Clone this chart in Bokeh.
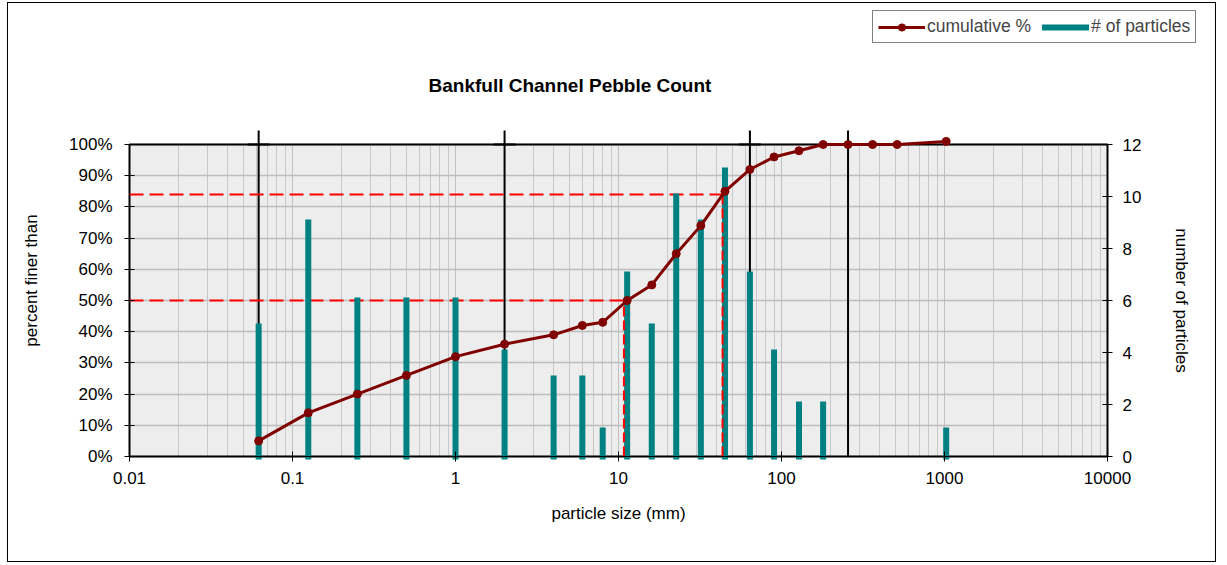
import math
from bokeh.plotting import figure
from bokeh.models import (Range1d, LinearAxis, FixedTicker, NumeralTickFormatter,
                          Legend, LegendItem, Label)
from bokeh.embed import file_html
from bokeh.resources import INLINE

# Pebble count: sieve class upper bounds (mm), counts per class, cumulative percent finer
sizes = [0.062, 0.125, 0.25, 0.5, 1, 2, 4, 6, 8, 11.3, 16, 22.6, 32, 45,
         64, 90, 128, 180, 256, 362, 512, 1024]
counts = [5, 9, 6, 6, 6, 4, 3, 3, 1, 7, 5, 10, 9, 11, 7, 4, 2, 2, 0, 0, 0, 1]
cum_pct = [5, 14, 20, 26, 32, 36, 39, 42, 43, 50, 55, 65, 74, 85, 92, 96, 98,
           100, 100, 100, 100, 101]

# size-class boundaries (silt/sand, sand/gravel, gravel/cobble, cobble/boulder)
class_bounds = [0.062, 2, 64, 256]

# characteristic grain sizes: percent finer and size (mm)
d_pct = [50, 84]
d_size = [10.8, 43.5]

# axis ticks
x_ticks = [0.01, 0.1, 1, 10, 100, 1000, 10000]
x_tick_labels = ["0.01", "0.1", "1", "10", "100", "1000", "10000"]
pct_ticks = [0, 0.1, 0.2, 0.3, 0.4, 0.5, 0.6, 0.7, 0.8, 0.9, 1.0]
count_ticks = [0, 2, 4, 6, 8, 10, 12]

FONT = "Liberation Sans"
MAROON = "#800000"
TEAL = "#008080"

# canvas geometry (px): the plot area sits inside a canvas-wide frame so that
# the title, legend and axis labels share one drawing surface
W, H = 1209, 560
PX_LEFT, PX_BOTTOM = 121, 107        # where 0.01 mm / 0 % fall
DECADE_PX, UNIT_PX = 163, 312        # px per decade, px per 100 %

x_lo, x_hi = x_ticks[0], x_ticks[-1]
lx0 = math.log10(x_lo)
x_start = 10 ** (lx0 - PX_LEFT / DECADE_PX)
x_end = 10 ** (lx0 + (W - PX_LEFT) / DECADE_PX)
y_start = -PX_BOTTOM / UNIT_PX
y_end = (H - PX_BOTTOM) / UNIT_PX
count_max = count_ticks[-1]

p = figure(width=W, height=H, x_axis_type="log",
           x_range=Range1d(x_start, x_end), y_range=Range1d(y_start, y_end),
           output_backend="svg", toolbar_location=None, title_location=None,
           min_border_left=0, min_border_right=0,
           min_border_top=0, min_border_bottom=0)
p.styles = {"border": "1px solid black", "margin-left": "7px", "margin-top": "2px"}
p.outline_line_color = None
p.background_fill_color = "white"
p.border_fill_color = "white"
p.extra_y_ranges = {"count": Range1d(y_start * count_max, y_end * count_max)}

# x axis (log)
minor = [m * 10.0 ** e for e in range(-2, 4) for m in range(2, 10)]
xt = FixedTicker(ticks=x_ticks, minor_ticks=minor)
p.xaxis.ticker = xt
p.xgrid.ticker = xt
p.xaxis.major_label_overrides = {t: s for t, s in zip(x_ticks, x_tick_labels)}
p.xaxis.axis_label = "particle size (mm)"
p.xaxis.fixed_location = 0
p.xaxis.bounds = (x_lo, x_hi)

# left axis (percent); its rule is the plot-area edge, the wider bounds only
# lift the axis title a little
yt = FixedTicker(ticks=pct_ticks)
p.yaxis.ticker = yt
p.ygrid.ticker = yt
p.yaxis.formatter = NumeralTickFormatter(format="0%")
p.yaxis.bounds = (0, 1.128)
p.yaxis.fixed_location = x_lo
p.yaxis.axis_label = "percent finer than"

# right axis (counts)
ry = LinearAxis(y_range_name="count", ticker=FixedTicker(ticks=count_ticks),
                bounds=(0, count_max), fixed_location=x_hi,
                axis_label="number of particles")
p.add_layout(ry, "right")

for ax in [p.xaxis[0], p.yaxis[0], ry]:
    ax.axis_line_color = "black"
    ax.axis_line_width = 1
    ax.major_tick_line_color = "black"
    ax.major_tick_in = 5
    ax.major_tick_out = 5
    ax.minor_tick_line_color = None
    ax.major_label_text_font = FONT
    ax.major_label_text_font_size = "17px"
    ax.major_label_text_color = "black"
    ax.axis_label_text_font = FONT
    ax.axis_label_text_font_size = "17px"
    ax.axis_label_text_font_style = "normal"
    ax.axis_label_text_color = "black"
p.yaxis.axis_line_color = None

p.xaxis.major_label_standoff = 10
p.xaxis.axis_label_standoff = 17
p.yaxis.major_label_standoff = 12
p.yaxis.axis_label_standoff = 25
ry.major_label_standoff = 10
ry.axis_label_standoff = 28

# grid, confined to the plot area
p.xgrid.grid_line_color = "#C0C0C0"
p.xgrid.minor_grid_line_color = "#C8C8C8"
p.xgrid.cross_bounds = (0, 1)
p.ygrid.grid_line_color = "#BDBDBD"
p.ygrid.grid_line_width = 1.5
p.ygrid.cross_bounds = (x_lo, x_hi)

# plot area
p.quad(left=[x_lo], right=[x_hi], bottom=[0], top=[1], fill_color="#EDEDED",
       line_color=None, level="image")
p.quad(left=[x_lo], right=[x_hi], bottom=[0], top=[1], fill_color=None,
       line_color="black", line_width=2)

# size-class boundary markers
p.segment(x0=class_bounds, y0=0, x1=class_bounds, y1=1.045,
          line_color="black", line_width=2)
p.scatter(x=class_bounds, y=1.0, marker="dash", size=22,
          line_color="black", line_width=2)

# D50 / D84 guides (horizontal part)
d_frac = [v / 100.0 for v in d_pct]
p.segment(x0=x_lo, y0=d_frac, x1=d_size, y1=d_frac,
          line_color="#FF0000", line_width=2, line_dash="14 6")

# particle counts
bx = [s for s, c in zip(sizes, counts) if c > 0]
by = [c for c in counts if c > 0]
bars = p.segment(x0=bx, y0=0, x1=bx, y1=by, y_range_name="count",
                 line_color=TEAL, line_width=6, line_cap="square")

# D50 / D84 guides (vertical part)
p.segment(x0=d_size, y0=0, x1=d_size, y1=d_frac,
          line_color="#FF0000", line_width=2, line_dash="10 4")

# cumulative curve
cum_frac = [v / 100.0 for v in cum_pct]
cl = p.line(x=sizes, y=cum_frac, line_color=MAROON, line_width=3)
cp = p.scatter(x=sizes, y=cum_frac, size=8, fill_color=MAROON, line_color=MAROON)

# title
p.add_layout(Label(x=420, y=478, x_units="screen", y_units="screen",
                   text="Bankfull Channel Pebble Count", text_font=FONT,
                   text_font_size="19px", text_font_style="bold",
                   text_color="black", text_align="left",
                   text_baseline="alphabetic"))

legend = Legend(items=[LegendItem(label="cumulative %", renderers=[cl, cp]),
                       LegendItem(label="# of particles", renderers=[bars])],
                orientation="horizontal", location=(864, 520))
legend.border_line_color = "black"
legend.border_line_width = 1
legend.background_fill_color = "white"
legend.background_fill_alpha = 1
legend.padding = 5
legend.margin = 0
legend.spacing = 11
legend.glyph_width = 47
legend.glyph_height = 18
legend.label_height = 18
legend.label_standoff = 2
legend.label_text_font = FONT
legend.label_text_font_size = "17.5px"
p.add_layout(legend)

open("out.html", "w").write(file_html(p, INLINE))
